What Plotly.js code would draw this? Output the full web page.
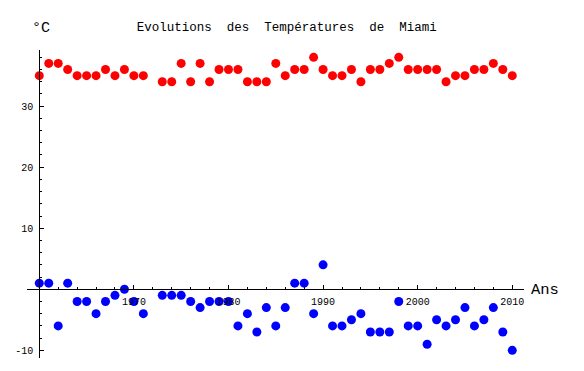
<!DOCTYPE html>
<html>
<head>
<meta charset="utf-8">
<script src="https://cdn.plot.ly/plotly-3.0.1.min.js"></script>
<style>html,body{margin:0;padding:0;background:#fff;}#chart{width:584px;height:371px;}</style>
</head>
<body>
<div id="chart"></div>
<script>
const years = [1960,1961,1962,1963,1964,1965,1966,1967,1968,1969,1970,1971,
  1973,1974,1975,1976,1977,1978,1979,1980,1981,1982,1983,1984,1985,1986,1987,1988,1989,
  1990,1991,1992,1993,1994,1995,1996,1997,1998,1999,2000,2001,2002,2003,2004,2005,2006,2007,2008,2009,2010];
const tMax = [35,37,37,36,35,35,35,36,35,36,35,35,
  34,34,37,34,37,34,36,36,36,34,34,34,37,35,36,36,38,
  36,35,35,36,34,36,36,37,38,36,36,36,36,34,35,35,36,36,37,36,35];
const tMin = [1,1,-6,1,-2,-2,-4,-2,-1,0,-2,-4,
  -1,-1,-1,-2,-3,-2,-2,-2,-6,-4,-7,-3,-6,-3,1,1,-4,
  4,-6,-6,-5,-4,-7,-7,-7,-2,-6,-6,-9,-5,-6,-5,-3,-6,-5,-3,-7,-10];
const xTicks = [1970,1980,1990,2000,2010];
const yTicks = [-10,10,20,30];
const titleText = "Evolutions\u00a0 des\u00a0 Températures\u00a0 de\u00a0 Miami";
const yLabel = "°C";
const xLabel = "Ans";

const mono = "Liberation Mono, Courier New, monospace";
const traces = [
  {x: years, y: tMax, type: 'scatter', mode: 'markers', marker: {color: '#ff0000', size: 9}, hoverinfo: 'none'},
  {x: years, y: tMin, type: 'scatter', mode: 'markers', marker: {color: '#0000ff', size: 9}, hoverinfo: 'none'}
];
const layout = {
  width: 584, height: 371,
  margin: {l: 27, r: 60, t: 50, b: 13},
  paper_bgcolor: '#fff', plot_bgcolor: '#fff',
  showlegend: false,
  font: {family: mono, color: '#000', size: 10},
  title: {text: titleText, font: {family: mono, size: 12.5, color: '#000'},
          xref: 'container', x: 0.491, xanchor: 'center', yref: 'container', y: 1 - 27/371, yanchor: 'middle'},
  xaxis: {
    range: [1958.7, 2011.24], anchor: 'free', position: 0.223,
    showline: true, linecolor: '#000', linewidth: 1, showgrid: false, zeroline: false,
    tickmode: 'array', tickvals: xTicks, ticktext: xTicks.map(String),
    ticks: 'inside', ticklen: 4, tickwidth: 1, tickcolor: '#000', ticklabelstandoff: 3,
    tickfont: {family: mono, size: 10, color: '#000'},
    minor: {dtick: 2, tick0: 1960, ticks: 'inside', ticklen: 2, tickwidth: 1, tickcolor: '#000', showgrid: false}
  },
  yaxis: {
    range: [-11.26, 39.2], anchor: 'free', position: 0.0247,
    showline: true, linecolor: '#000', linewidth: 1, showgrid: false, zeroline: false,
    tickmode: 'array', tickvals: yTicks, ticktext: yTicks.map(String),
    ticks: 'inside', ticklen: 4, tickwidth: 1, tickcolor: '#000', ticklabelstandoff: 4,
    tickfont: {family: mono, size: 10, color: '#000'},
    minor: {dtick: 2, tick0: 0, ticks: 'inside', ticklen: 2, tickwidth: 1, tickcolor: '#000', showgrid: false}
  },
  annotations: [
    {text: yLabel, xref: 'paper', yref: 'paper', x: (30-27)/497, xanchor: 'left', y: (358-28)/308, yanchor: 'middle', showarrow: false,
     font: {family: mono, size: 15, color: '#000'}},
    {text: xLabel, xref: 'paper', yref: 'paper', x: (529-27)/497, xanchor: 'left', y: (358-290)/308, yanchor: 'middle', showarrow: false,
     font: {family: mono, size: 15.5, color: '#000'}}
  ]
};
Plotly.newPlot('chart', traces, layout, {displayModeBar: false, staticPlot: true});
</script>
</body>
</html>
